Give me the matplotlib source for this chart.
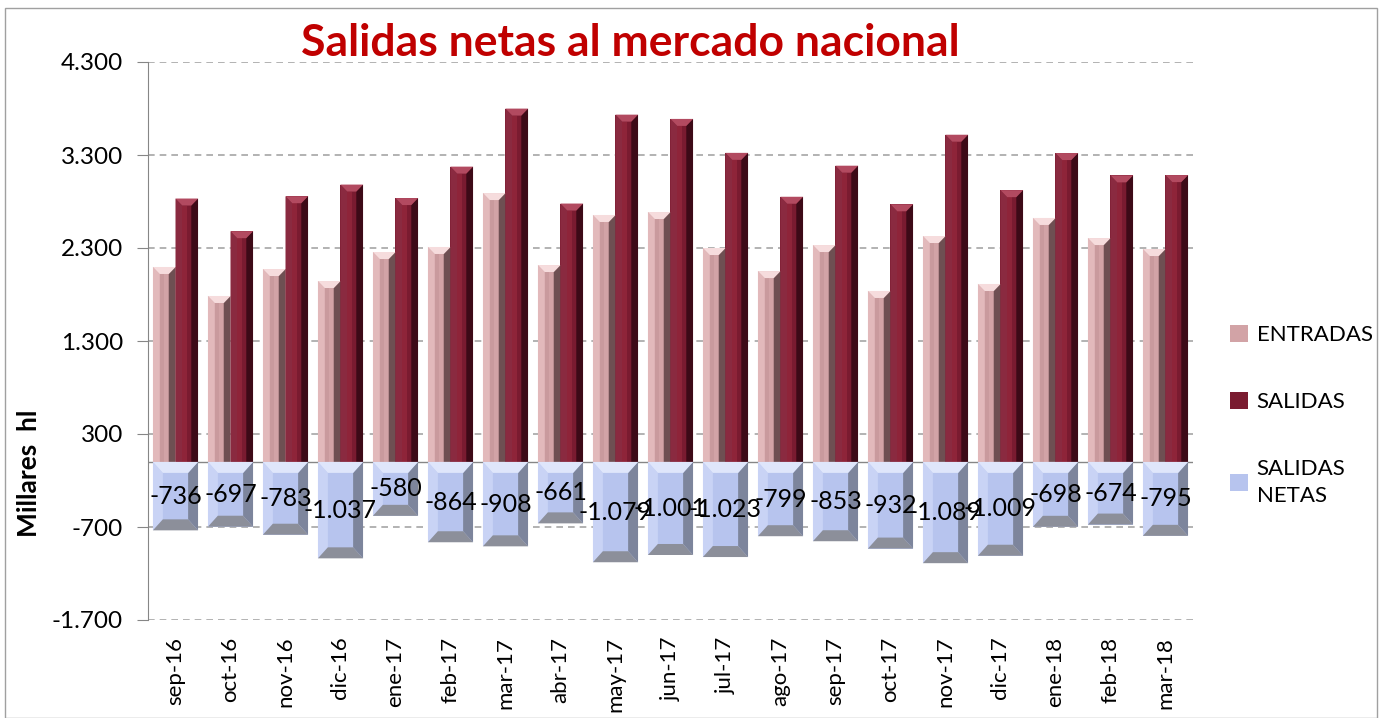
import numpy as np
import matplotlib.pyplot as plt
from matplotlib.patches import Polygon, Rectangle
from matplotlib.ticker import FuncFormatter

# datos (millares de hl)
meses = ["sep-16", "oct-16", "nov-16", "dic-16", "ene-17", "feb-17", "mar-17", "abr-17",
         "may-17", "jun-17", "jul-17", "ago-17", "sep-17", "oct-17", "nov-17", "dic-17",
         "ene-18", "feb-18", "mar-18"]
entradas = [2096, 1784, 2074, 1945, 2257, 2311, 2891, 2117, 2655, 2687, 2300, 2052,
            2332, 1838, 2429, 1913, 2623, 2407, 2289]
netas = [-736, -697, -783, -1037, -580, -864, -908, -661, -1079, -1001, -1023, -799,
         -853, -932, -1089, -1009, -698, -674, -795]
salidas = [e - n for e, n in zip(entradas, netas)]

plt.rcParams['font.family'] = ['Lato', 'DejaVu Sans']

fig = plt.figure(figsize=(13.85, 7.18), dpi=100)
ax = fig.add_axes([148/1385, 98/718, 1045/1385, 558/718])
ax.set_ylim(-1700, 4300)
ax.set_xlim(-0.5, len(meses) - 0.5)

x = np.arange(len(meses))
w = 0.41
b_ent = ax.bar(x - w/2, entradas, w, color="#d2a3a6", zorder=2, label="ENTRADAS")
b_sal = ax.bar(x + w/2, salidas, w, color="#7a1b30", zorder=2, label="SALIDAS")
b_net = ax.bar(x, netas, 2*w, color="#b7c4ee", zorder=2, label="SALIDAS\nNETAS")

# pixeles -> unidades de datos (eje y)
upp = 6000 / 558


def bevel(rects, top, left, right, bottom, center, bpx_x, bpx_y, neg=False):
    for r in rects:
        x0, y0, ww, hh = r.get_x(), r.get_y(), r.get_width(), r.get_height()
        lo, hi = min(y0, y0 + hh), max(y0, y0 + hh)
        bx = ww * bpx_x
        by = bpx_y * upp
        if not neg:
            # franjas laterales
            ax.add_patch(Polygon([(x0, lo), (x0 + bx, lo), (x0 + bx, hi - by), (x0, hi)],
                                 color=left, zorder=3, lw=0))
            ax.add_patch(Polygon([(x0 + ww - bx, lo), (x0 + ww, lo), (x0 + ww, hi),
                                  (x0 + ww - bx, hi - by)], color=right, zorder=3, lw=0))
            ax.add_patch(Polygon([(x0 + bx, lo), (x0 + ww/2, lo), (x0 + ww/2, hi - by),
                                  (x0 + bx, hi - by)], color=center, zorder=3, lw=0))
            ax.add_patch(Polygon([(x0, hi), (x0 + ww, hi), (x0 + ww - bx, hi - by),
                                  (x0 + bx, hi - by)], color=top, zorder=3, lw=0))
        else:
            ax.add_patch(Polygon([(x0, hi), (x0 + bx, hi - by), (x0 + bx, lo + by), (x0, lo)],
                                 color=left, zorder=3, lw=0))
            ax.add_patch(Polygon([(x0 + ww, hi), (x0 + ww - bx, hi - by), (x0 + ww - bx, lo + by),
                                  (x0 + ww, lo)], color=right, zorder=3, lw=0))
            ax.add_patch(Polygon([(x0, hi), (x0 + ww, hi), (x0 + ww - bx, hi - by),
                                  (x0 + bx, hi - by)], color=top, zorder=3, lw=0))
            ax.add_patch(Polygon([(x0, lo), (x0 + ww, lo), (x0 + ww - bx, lo + by),
                                  (x0 + bx, lo + by)], color=bottom, zorder=3, lw=0))


bevel(b_ent, "#f6dcdd", "#e2b9bb", "#6e4f52", None, "#c99a9d", 0.3, 7)
bevel(b_sal, "#b24a60", "#8a2a40", "#3d0a17", None, "#8e2439", 0.3, 7)
bevel(b_net, "#dfe6fb", "#c9d3f5", "#7d859c", "#8c8f9a", "#b7c4ee", 0.22, 11, neg=True)

ax.bar_label(b_net, labels=[f"{v:,}".replace(",", ".") for v in netas],
             label_type="center", fontsize=18, zorder=5)

ax.yaxis.set_major_formatter(FuncFormatter(lambda v, p: f"{int(v):,}".replace(",", ".")))
ax.set_yticks(np.arange(-1700, 4301, 1000))
ax.grid(axis="y", color="#a6a6a6", ls=(0, (4, 3)), lw=1.2, zorder=0)
ax.set_xticks(x)
ax.set_xticklabels(meses, rotation=90, fontsize=16)
ax.tick_params(axis="y", labelsize=17.5, length=8, pad=10, color="#868686")
ax.tick_params(axis="x", length=0, pad=12)
for s in ["top", "right", "bottom"]:
    ax.spines[s].set_visible(False)
ax.spines["left"].set_color("#868686")
ax.axhline(0, color="#868686", lw=1, zorder=1)

fig.text(29/1385, 1 - 473/718, "Millares  hl", rotation=90, fontsize=19,
         fontweight="bold", ha="center", va="center")
fig.text(630/1385, 1 - 43/718, "Salidas netas al mercado nacional", color="#c00000",
         fontsize=32, fontweight="bold", ha="center", va="center")

leg = fig.legend(handles=[b_ent, b_sal, b_net], loc="upper left",
                 bbox_to_anchor=(1210/1385, 1 - 305/718), frameon=False, fontsize=16,
                 labelspacing=2.1, handlelength=0.8, handleheight=0.8, handletextpad=0.4)
for t in leg.get_texts():
    t.set_linespacing(1.45)

fig.add_artist(Rectangle((5/1385, 0), 1372/1385, 1 - 8/718, transform=fig.transFigure,
                         fill=False, ec="#a0a0a0", lw=1))

fig.savefig("out.png", dpi=100)
